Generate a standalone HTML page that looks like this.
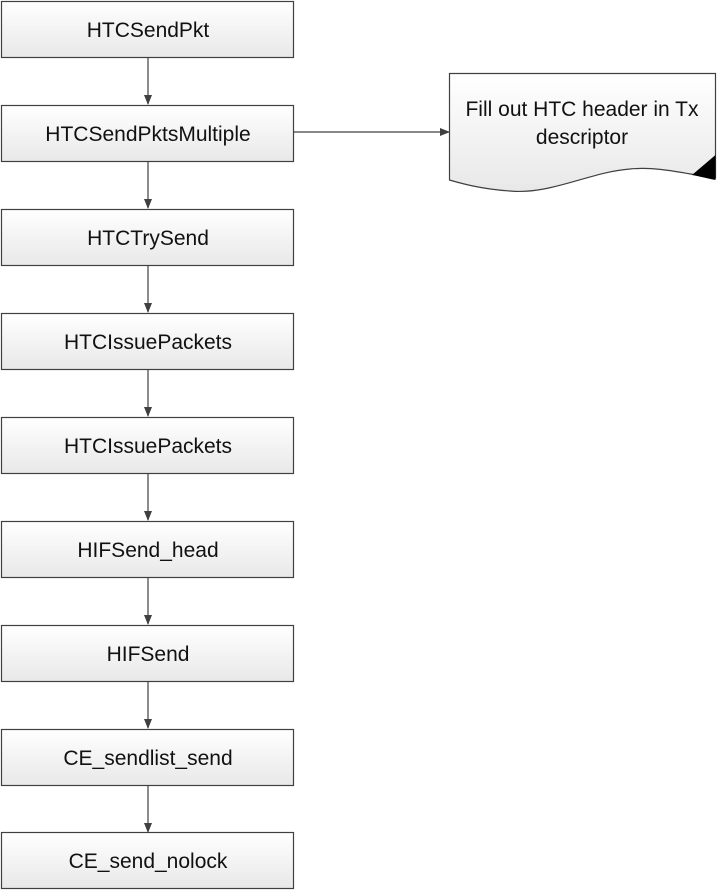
<!DOCTYPE html>
<html><head><meta charset="utf-8"><style>body{margin:0;background:#fff}svg{display:block}</style></head><body>
<svg width="717" height="891" xmlns="http://www.w3.org/2000/svg" font-family="'Liberation Sans',sans-serif" font-size="21">
<defs>
<linearGradient id="g" x1="0" y1="0" x2="0" y2="1"><stop offset="0" stop-color="#ffffff"/><stop offset="1" stop-color="#e8e8e8"/></linearGradient>
<marker id="a" markerWidth="10" markerHeight="10" refX="9" refY="5" orient="auto" markerUnits="userSpaceOnUse"><path d="M0,1 L10,5 L0,9 z" fill="#404040"/></marker>
</defs>
<g stroke="#404040" stroke-width="1.2">
<line x1="148" y1="58" x2="148" y2="104" marker-end="url(#a)"/>
<line x1="148" y1="162" x2="148" y2="208" marker-end="url(#a)"/>
<line x1="148" y1="266" x2="148" y2="312" marker-end="url(#a)"/>
<line x1="148" y1="370" x2="148" y2="416" marker-end="url(#a)"/>
<line x1="148" y1="474" x2="148" y2="520" marker-end="url(#a)"/>
<line x1="148" y1="578" x2="148" y2="624" marker-end="url(#a)"/>
<line x1="148" y1="682" x2="148" y2="728" marker-end="url(#a)"/>
<line x1="148" y1="786" x2="148" y2="832" marker-end="url(#a)"/>
<line x1="294" y1="132" x2="449" y2="132" marker-end="url(#a)"/>
</g>
<g fill="url(#g)" stroke="#404040" stroke-width="1.2">
<rect x="1.5" y="1.5" width="292" height="56"/>
<rect x="1.5" y="105.5" width="292" height="56"/>
<rect x="1.5" y="209.5" width="292" height="56"/>
<rect x="1.5" y="313.5" width="292" height="56"/>
<rect x="1.5" y="417.5" width="292" height="56"/>
<rect x="1.5" y="521.5" width="292" height="56"/>
<rect x="1.5" y="625.5" width="292" height="56"/>
<rect x="1.5" y="729.5" width="292" height="56"/>
<rect x="1.5" y="832.5" width="292" height="56"/>
<path d="M449.5,73.5 H715.5 V178 C690,175 660,166 630,169 C590,172 550,195 510,191 C480,189 460,183 449.5,180 Z"/>
</g>
<path d="M692,175 L715.5,155 L715.5,180 C705,178 698,176 692,175 Z" fill="#000"/>
<g fill="#111" text-anchor="middle">
<text x="148" y="37">HTCSendPkt</text>
<text x="148" y="141">HTCSendPktsMultiple</text>
<text x="148" y="245">HTCTrySend</text>
<text x="148" y="349">HTCIssuePackets</text>
<text x="148" y="453">HTCIssuePackets</text>
<text x="148" y="557">HIFSend_head</text>
<text x="148" y="661">HIFSend</text>
<text x="148" y="765">CE_sendlist_send</text>
<text x="148" y="868">CE_send_nolock</text>
<text x="582" y="116">Fill out HTC header in Tx</text>
<text x="582" y="144">descriptor</text>
</g>
</svg>
</body></html>
